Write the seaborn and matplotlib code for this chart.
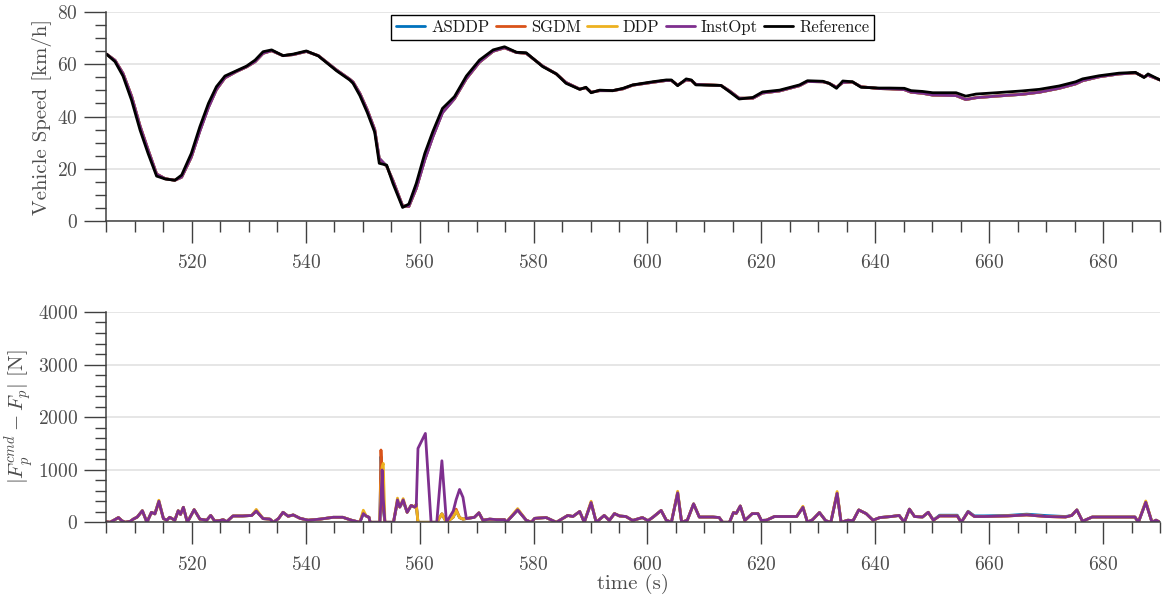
import matplotlib
matplotlib.use("Agg")
import matplotlib.pyplot as plt
from matplotlib.ticker import MultipleLocator
import pandas as pd
import seaborn as sns

# ---------------------------------------------------------------- data
speed_time = [505.0, 506.5, 507.9, 509.4, 510.9, 512.3, 513.8, 515.3, 517.0, 518.2,
              519.9, 521.4, 522.9, 524.3, 525.8, 527.8, 529.6, 531.1, 532.5, 534.0,
              536.0, 537.8, 540.1, 542.2, 545.4, 547.7, 548.3, 549.5, 550.8, 552.1,
              552.9, 554.2, 555.3, 557.0, 558.1, 559.4, 560.9, 562.3, 564.0, 566.1,
              568.2, 570.5, 572.9, 574.9, 577.0, 578.7, 581.6, 584.0, 585.7, 588.1,
              589.2, 590.1, 591.6, 593.9, 595.7, 597.4, 600.9, 603.3, 604.2, 605.3,
              606.8, 607.7, 608.5, 612.9, 614.4, 616.1, 618.5, 620.2, 623.2, 626.7,
              628.1, 630.8, 631.9, 633.2, 634.3, 636.0, 637.5, 640.7, 642.5, 645.1,
              646.3, 648.3, 650.1, 654.2, 655.9, 657.7, 661.2, 665.8, 668.8, 672.3,
              675.2, 676.4, 679.3, 682.8, 685.7, 687.2, 687.9, 690.0]

speed_reference = [63.9, 61.0, 55.5, 46.3, 34.8, 25.9, 17.2, 16.1, 15.6, 17.6,
                   25.9, 36.1, 45.0, 51.4, 55.5, 57.5, 59.3, 61.6, 64.8, 65.5,
                   63.3, 63.9, 65.1, 63.2, 57.5, 54.0, 52.7, 48.0, 41.5, 34.0,
                   22.1, 21.4, 14.4, 5.2, 6.5, 14.4, 25.9, 34.2, 43.1, 47.6,
                   55.5, 61.6, 65.5, 66.7, 64.6, 64.4, 59.1, 56.3, 52.7, 50.4,
                   51.2, 49.1, 50.1, 49.9, 50.8, 52.1, 53.3, 54.0, 54.0, 51.8,
                   54.4, 54.0, 52.1, 51.9, 49.5, 46.7, 47.3, 49.4, 50.1, 52.1,
                   53.7, 53.5, 52.7, 50.8, 53.6, 53.3, 51.2, 50.9, 50.9, 50.8,
                   49.9, 49.6, 49.1, 49.1, 47.8, 48.6, 49.1, 49.8, 50.4, 51.7,
                   53.3, 54.4, 55.6, 56.6, 56.9, 54.9, 56.3, 54.0]

speed_tracked = [63.9, 61.5, 56.5, 47.8, 36.3, 27.3, 18.0, 16.2, 15.6, 16.8,
                 24.5, 34.5, 43.5, 50.3, 54.8, 57.2, 59.0, 61.0, 64.2, 65.2,
                 63.3, 63.7, 64.9, 63.3, 57.8, 54.3, 53.2, 48.8, 42.5, 35.0,
                 24.0, 21.0, 15.5, 5.8, 5.6, 12.5, 23.5, 32.2, 41.5, 46.8,
                 54.5, 60.8, 65.0, 66.3, 64.5, 64.2, 59.3, 56.3, 53.0, 50.5,
                 51.0, 49.3, 49.9, 49.9, 50.6, 52.0, 53.1, 53.8, 53.8, 52.0,
                 54.0, 53.8, 52.3, 51.9, 49.8, 47.0, 47.0, 49.0, 49.8, 51.8,
                 53.4, 53.3, 52.7, 51.2, 53.0, 53.2, 51.4, 50.7, 50.6, 50.3,
                 49.3, 48.9, 48.2, 48.0, 46.5, 47.2, 47.8, 48.5, 49.3, 50.8,
                 52.5, 53.7, 55.2, 56.3, 56.7, 55.2, 55.8, 54.0]

# points where a controller's speed differs from the common tracked trace
speed_changes = {
    "ASDDP": {},
    "SGDM": {552.9: 23.4},
    "DDP": {521.4: 35.2, 522.9: 44.2, 560.9: 24.6, 562.3: 33.1, 564.0: 42.2},
    "InstOpt": {},
}

err_time = [505.0, 505.6, 506.3, 507.1, 507.7, 508.3, 509.2, 509.7, 510.4, 511.3,
            512.1, 512.9, 513.5, 514.2, 515.0, 515.6, 516.1, 517.0, 517.6, 518.0,
            518.5, 519.2, 520.4, 521.4, 522.6, 523.3, 524.0, 524.8, 525.5, 526.1,
            527.2, 528.9, 530.5, 531.3, 532.5, 533.7, 534.3, 535.2, 536.0, 536.9,
            537.8, 539.0, 540.4, 542.5, 544.8, 546.5, 548.0, 549.5, 550.1, 550.6,
            551.1, 551.3, 553.0, 553.2, 553.4, 553.6, 553.9, 555.4, 556.1, 556.5,
            557.1, 557.8, 558.5, 559.1, 559.4, 559.7, 561.0, 562.0, 563.0, 563.9,
            564.7, 565.9, 566.4, 567.0, 567.6, 568.2, 569.6, 570.4, 571.1, 572.3,
            573.5, 574.9, 575.2, 577.2, 578.7, 579.6, 580.2, 582.2, 584.0, 586.0,
            586.9, 588.1, 588.9, 590.1, 591.0, 592.4, 593.3, 594.2, 595.1, 596.2,
            597.4, 599.1, 600.1, 601.0, 602.4, 603.3, 604.2, 605.3, 606.0, 607.0,
            608.1, 609.1, 611.5, 612.6, 613.2, 614.4, 615.1, 615.6, 616.3, 617.1,
            618.4, 619.4, 620.0, 620.9, 622.3, 625.0, 626.2, 627.3, 628.1, 629.0,
            630.2, 631.3, 632.2, 633.3, 634.0, 635.2, 636.1, 637.1, 638.4, 639.6,
            640.8, 642.8, 644.2, 645.1, 646.0, 646.9, 648.3, 649.3, 650.2, 651.3,
            654.4, 655.1, 656.3, 657.4, 659.1, 663.2, 666.6, 670.0, 673.4, 674.5,
            675.4, 676.4, 678.1, 682.8, 685.6, 686.2, 687.5, 688.6, 689.3, 690.0]

err_shared = [10, 0, 40, 90, 30, 0, 20, 60, 100, 220,
              0, 190, 160, 400, 70, 40, 95, 40, 220, 150,
              285, 0, 240, 60, 40, 130, 25, 30, 50, 10,
              120, 120, 130, 215, 70, 60, 0, 70, 190, 115,
              140, 75, 40, 60, 95, 95, 40, 0, 165, 120,
              95, 0, 0, 0, 0, 0, 0, 0, 425, 290,
              425, 190, 320, 290, 340, 0, 0, 0, 0, 160,
              0, 100, 220, 90, 60, 70, 95, 180, 40, 60,
              50, 50, 0, 235, 40, 0, 75, 90, 0, 130,
              110, 205, 0, 375, 0, 130, 35, 165, 120, 110,
              35, 90, 30, 100, 225, 40, 0, 560, 0, 40,
              350, 100, 100, 90, 0, 0, 185, 170, 310, 35,
              165, 165, 35, 40, 110, 110, 110, 285, 0, 50,
              185, 30, 0, 550, 0, 40, 30, 235, 165, 40,
              90, 110, 130, 0, 250, 110, 100, 190, 40, 120,
              120, 0, 200, 110, 110, 120, 140, 110, 100, 130,
              235, 20, 100, 100, 100, 0, 380, 0, 40, 0]

# points where a controller's force error differs from the shared trace
err_changes = {
    "ASDDP": {553.2: 1250, 553.4: 850, 553.6: 250, 556.1: 390, 557.1: 400,
              651.3: 135, 654.4: 135, 656.3: 210, 657.4: 122, 659.1: 122,
              663.2: 130, 666.6: 155, 670.0: 128, 673.4: 110},
    "SGDM": {553.2: 1375, 553.4: 900, 553.6: 300, 556.1: 400, 557.1: 410,
             566.4: 250, 514.2: 380, 550.1: 190},
    "DDP": {553.2: 700, 553.4: 1050, 553.6: 1120, 550.1: 230, 556.1: 460,
            557.1: 450, 514.2: 420, 531.3: 245, 577.2: 260, 590.1: 400,
            605.3: 590, 627.3: 305, 633.3: 585, 687.5: 405},
    "InstOpt": {553.2: 400, 553.4: 995, 553.6: 450, 559.4: 310, 559.7: 1405,
                561.0: 1690, 563.9: 1170, 565.9: 215, 566.4: 430, 567.0: 625,
                567.6: 475},
}

methods = ["ASDDP", "SGDM", "DDP", "InstOpt"]
palette = {"ASDDP": "#0072BD", "SGDM": "#D95319", "DDP": "#EDB120",
           "InstOpt": "#7E2F8E", "Reference": "#000000"}


def apply_changes(times, base, changes):
    return [changes.get(t, v) for t, v in zip(times, base)]


speed_rows = []
for m in methods:
    vals = apply_changes(speed_time, speed_tracked, speed_changes[m])
    speed_rows += [(m, t, v) for t, v in zip(speed_time, vals)]
speed_rows += [("Reference", t, v) for t, v in zip(speed_time, speed_reference)]
speed_df = pd.DataFrame(speed_rows, columns=["method", "time", "speed"])

err_rows = []
for m in methods:
    vals = apply_changes(err_time, err_shared, err_changes[m])
    err_rows += [(m, t, v) for t, v in zip(err_time, vals)]
err_df = pd.DataFrame(err_rows, columns=["method", "time", "err"])

# ---------------------------------------------------------------- style
sns.set_theme(style="white")
plt.rcParams["font.family"] = ["cmr10", "DejaVu Serif"]
plt.rcParams["mathtext.fontset"] = "cm"
plt.rcParams["axes.formatter.use_mathtext"] = True
plt.rcParams["axes.unicode_minus"] = False

axis_col = "#404040"
text_col = "#4d4d4d"

fig = plt.figure(figsize=(11.65, 5.98), dpi=100)
ax1 = fig.add_axes([0.0914, 0.6304, 0.9043, 0.3495])
ax2 = fig.add_axes([0.0914, 0.1266, 0.9043, 0.3517])

sns.lineplot(data=speed_df, x="time", y="speed", hue="method",
             hue_order=methods + ["Reference"], palette=palette,
             estimator=None, sort=False, linewidth=2.0, ax=ax1)
sns.lineplot(data=err_df, x="time", y="err", hue="method",
             hue_order=methods, palette=palette,
             estimator=None, sort=False, linewidth=2.0, legend=False, ax=ax2)

handles, labels = ax1.get_legend_handles_labels()
if ax1.get_legend() is not None:
    ax1.get_legend().remove()
leg = ax1.legend(handles, labels, loc="upper center", bbox_to_anchor=(0.4995, 0.988),
                 ncol=5, frameon=True, fancybox=False, fontsize=12,
                 handlelength=1.75, handletextpad=0.35, columnspacing=0.4,
                 borderpad=0.3, borderaxespad=0.0, labelcolor="#1a1a1a")
leg.get_frame().set_edgecolor("black")
leg.get_frame().set_linewidth(1.0)
leg.get_frame().set_alpha(1.0)
for line in leg.get_lines():
    line.set_linewidth(2.0)

for ax in (ax1, ax2):
    ax.set_xlim(505, 690)
    ax.xaxis.set_major_locator(MultipleLocator(20))
    ax.xaxis.set_minor_locator(MultipleLocator(5))
    sns.despine(ax=ax)
    for side in ("left", "bottom"):
        ax.spines[side].set_color(axis_col)
        ax.spines[side].set_linewidth(1.1)
    ax.grid(axis="y", which="major", color="#e4e4e4", linewidth=1.3)
    ax.set_axisbelow(True)
    ax.tick_params(which="major", direction="out", length=15.5, width=1.0,
                   color=axis_col, labelcolor=text_col, labelsize=14)
    ax.tick_params(which="minor", direction="out", length=8, width=1.0,
                   color=axis_col)
    ax.tick_params(axis="x", which="major", pad=8.5)
    ax.tick_params(axis="y", which="major", pad=5)
    ax.tick_params(which="both", left=True, bottom=True)

ax1.set_ylim(0, 80)
ax1.yaxis.set_major_locator(MultipleLocator(20))
ax1.yaxis.set_minor_locator(MultipleLocator(5))
ax1.set_xlabel("")
ax1.set_ylabel("Vehicle Speed [km/h]", fontsize=15, color=text_col)
ax1.yaxis.set_label_coords(-0.052, 0.5)

ax2.set_ylim(0, 4000)
ax2.yaxis.set_major_locator(MultipleLocator(1000))
ax2.yaxis.set_minor_locator(MultipleLocator(200))
ax2.set_xlabel("time (s)", fontsize=15, color=text_col)
ax2.xaxis.set_label_coords(0.5, -0.245)
ax2.set_ylabel(r"$|F_p^{cmd}-F_p|$ [N]", fontsize=15, color=text_col)
ax2.yaxis.set_label_coords(-0.067, 0.5)

fig.savefig("out.png", dpi=100)
